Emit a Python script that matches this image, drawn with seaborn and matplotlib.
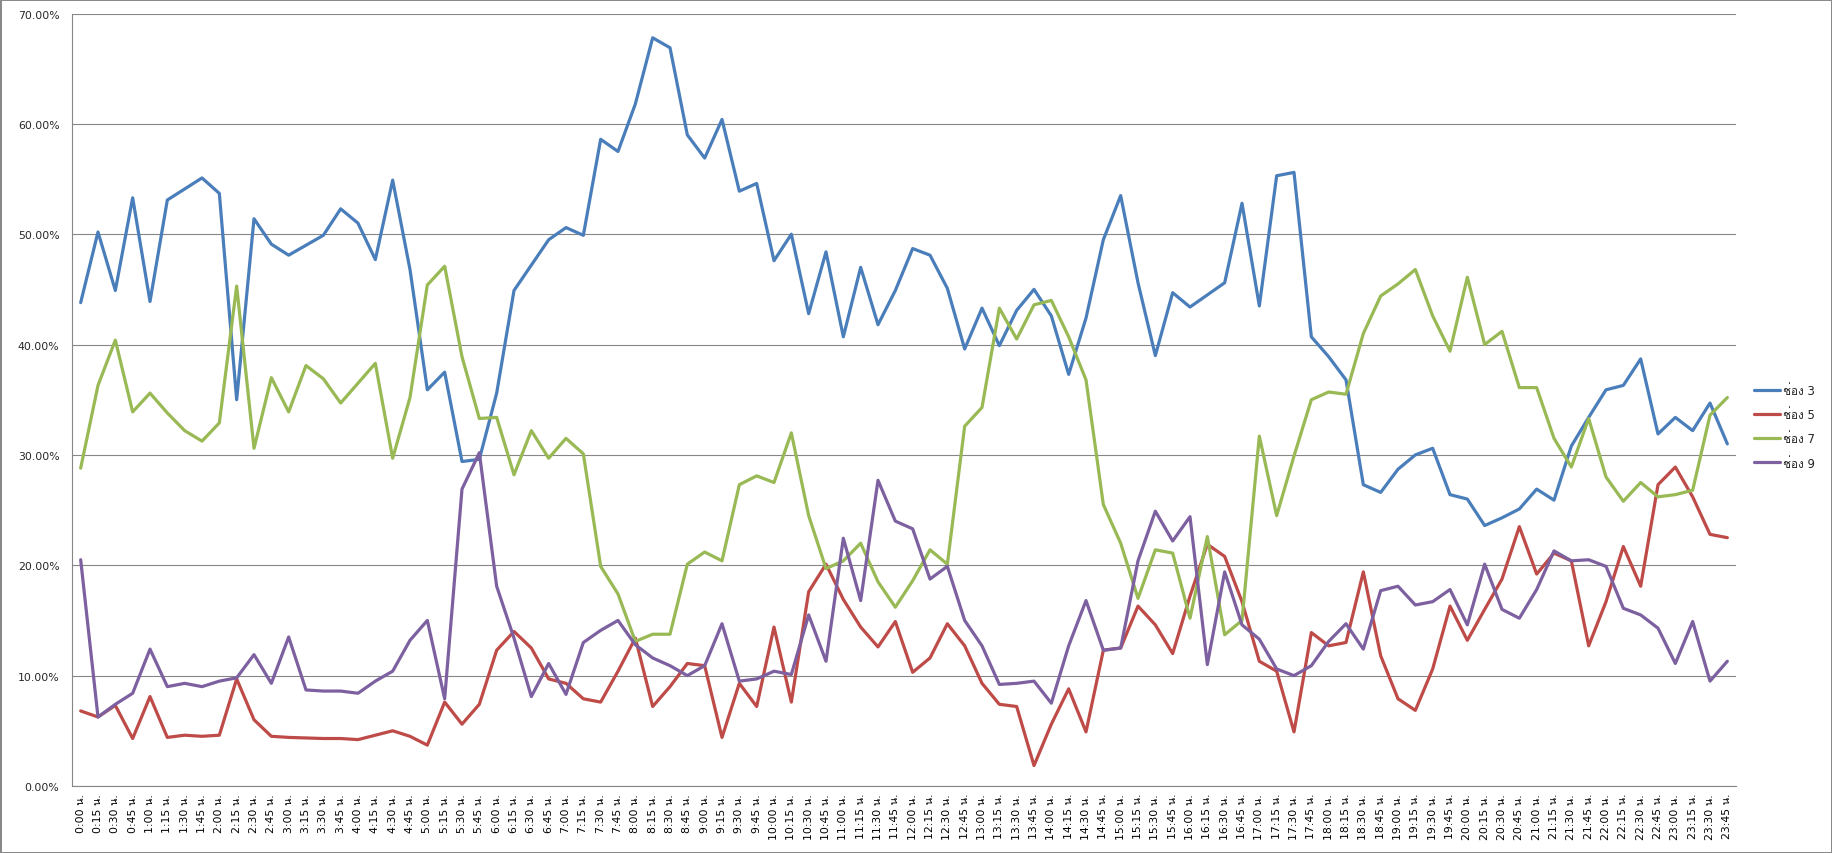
import numpy as np
import pandas as pd
import matplotlib
matplotlib.use("Agg")
import matplotlib.pyplot as plt
import seaborn as sns
from matplotlib.ticker import FixedLocator, PercentFormatter

# 15-minute slots, 0:00 - 23:45
time_labels = [f"{h}:{m:02d} น." for h in range(24) for m in (0, 15, 30, 45)]

series_names = ["ช่อง 3", "ช่อง 5", "ช่อง 7", "ช่อง 9"]

ch3 = [43.8, 50.2, 44.9, 53.3, 43.9, 53.1, 54.1, 55.1, 53.7, 35.0, 51.4, 49.1, 48.1, 49.0, 49.9, 52.3,
       51.0, 47.7, 54.9, 46.8, 35.9, 37.5, 29.4, 29.6, 35.6, 44.9, 47.2, 49.5, 50.6, 49.9, 58.6, 57.5,
       61.8, 67.8, 66.9, 59.0, 56.9, 60.4, 53.9, 54.6, 47.6, 50.0, 42.8, 48.4, 40.7, 47.0, 41.8, 44.9,
       48.7, 48.1, 45.1, 39.6, 43.3, 39.9, 43.1, 45.0, 42.6, 37.3, 42.4, 49.5, 53.5, 45.6, 39.0, 44.7,
       43.4, 44.5, 45.6, 52.8, 43.5, 55.3, 55.6, 40.7, 38.9, 36.8, 27.3, 26.6, 28.7, 30.0, 30.6, 26.4,
       26.0, 23.6, 24.3, 25.1, 26.9, 25.9, 30.8, 33.4, 35.9, 36.3, 38.7, 31.9, 33.4, 32.2, 34.7, 31.0]

ch5 = [6.8, 6.25, 7.3, 4.3, 8.1, 4.4, 4.6, 4.5, 4.6, 9.7, 6.0, 4.5, 4.4, 4.35, 4.3, 4.3,
       4.2, 4.6, 5.0, 4.5, 3.7, 7.6, 5.6, 7.4, 12.3, 14.0, 12.5, 9.7, 9.3, 7.9, 7.6, 10.4,
       13.4, 7.2, 9.0, 11.1, 10.9, 4.4, 9.3, 7.2, 14.4, 7.6, 17.6, 20.1, 16.9, 14.4, 12.6, 14.9,
       10.3, 11.6, 14.7, 12.7, 9.3, 7.4, 7.2, 1.85, 5.6, 8.8, 4.9, 12.3, 12.5, 16.3, 14.6, 12.0,
       17.2, 21.9, 20.8, 16.7, 11.3, 10.4, 4.9, 13.9, 12.7, 13.0, 19.4, 11.8, 7.9, 6.85, 10.6, 16.3,
       13.2, 16.0, 18.75, 23.5, 19.2, 21.1, 20.4, 12.7, 16.7, 21.7, 18.1, 27.3, 28.9, 26.2, 22.8, 22.5]

ch7 = [28.8, 36.3, 40.4, 33.9, 35.6, 33.8, 32.2, 31.25, 32.9, 45.3, 30.6, 37.0, 33.9, 38.1, 36.9, 34.7,
       36.5, 38.3, 29.7, 35.2, 45.4, 47.1, 38.9, 33.3, 33.4, 28.2, 32.2, 29.7, 31.5, 30.1, 19.9, 17.4,
       13.1, 13.75, 13.75, 20.1, 21.2, 20.4, 27.3, 28.1, 27.5, 32.0, 24.5, 19.7, 20.4, 22.0, 18.5, 16.2,
       18.6, 21.4, 20.1, 32.6, 34.3, 43.3, 40.5, 43.6, 44.0, 40.7, 36.8, 25.5, 22.0, 17.0, 21.4, 21.1,
       15.2, 22.6, 13.7, 15.0, 31.7, 24.5, 29.9, 35.0, 35.7, 35.5, 41.0, 44.4, 45.5, 46.8, 42.6, 39.4,
       46.1, 40.0, 41.2, 36.1, 36.1, 31.5, 28.9, 33.3, 28.0, 25.8, 27.5, 26.2, 26.4, 26.8, 33.6, 35.2]

ch9 = [20.5, 6.25, 7.4, 8.4, 12.4, 9.0, 9.3, 9.0, 9.5, 9.8, 11.9, 9.3, 13.5, 8.7, 8.6, 8.6,
       8.4, 9.5, 10.4, 13.2, 15.0, 7.9, 26.9, 30.2, 18.1, 13.4, 8.1, 11.1, 8.3, 13.0, 14.1, 15.0,
       12.8, 11.6, 10.9, 10.0, 10.9, 14.7, 9.5, 9.7, 10.4, 10.1, 15.5, 11.3, 22.45, 16.8, 27.7, 24.0,
       23.3, 18.75, 19.9, 15.0, 12.7, 9.2, 9.3, 9.5, 7.5, 12.7, 16.8, 12.3, 12.5, 20.4, 24.9, 22.2,
       24.4, 11.0, 19.4, 14.6, 13.3, 10.6, 10.0, 10.9, 13.1, 14.7, 12.4, 17.7, 18.1, 16.4, 16.7, 17.8,
       14.6, 20.1, 16.0, 15.2, 17.8, 21.3, 20.4, 20.5, 19.9, 16.1, 15.5, 14.3, 11.1, 14.9, 9.5, 11.3]

colors = ["#4A7EBB", "#BE4B48", "#98B954", "#7D60A0"]

df = pd.concat([
    pd.DataFrame({"time": time_labels, "share": vals, "channel": name})
    for name, vals in zip(series_names, [ch3, ch5, ch7, ch9])
], ignore_index=True)

sns.set_theme(style="white")
# DejaVu for latin/digits, Loma (tlwg) for the Thai letters
plt.rcParams["font.family"] = ["DejaVu Sans", "Loma"]

fig = plt.figure(figsize=(18.32, 8.54), dpi=100)
ax = fig.add_axes([0.0393, 0.0785, 0.9083, 0.9045])

sns.lineplot(data=df, x="time", y="share", hue="channel", hue_order=series_names,
             palette=colors, linewidth=2.3, sort=False, ax=ax)
for line in ax.get_lines():
    line.set_solid_joinstyle("round")
    line.set_solid_capstyle("round")

ax.set_xlim(-0.5, len(time_labels) - 0.5)
ax.set_ylim(0, 70)
ax.yaxis.set_major_locator(FixedLocator(np.arange(0, 71, 10)))
ax.yaxis.set_major_formatter(PercentFormatter(decimals=2))
ax.grid(axis="y", color="#868686", linewidth=0.8)
ax.set_axisbelow(True)

ax.set_xticks(range(len(time_labels)))
ax.set_xticklabels(time_labels, rotation=90)
ax.xaxis.set_minor_locator(FixedLocator(np.arange(-0.5, len(time_labels), 1)))
ax.tick_params(axis="x", which="major", length=0, labelsize=7.8, pad=5, colors="#000000")
ax.tick_params(axis="x", which="minor", length=5, width=0.8, color="#868686", direction="out")
ax.tick_params(axis="y", which="major", length=5, width=0.8, color="#868686", direction="out",
               labelsize=7.8, pad=4)
ax.set_xlabel("")
ax.set_ylabel("")

for side in ["top", "right"]:
    ax.spines[side].set_visible(False)
for side in ["left", "bottom"]:
    ax.spines[side].set_color("#868686")
    ax.spines[side].set_linewidth(0.8)

leg = ax.legend(loc="center left", bbox_to_anchor=(1.011, 0.465), frameon=False,
                fontsize=8.5, handlelength=2.2, handletextpad=0.25, labelspacing=0.95,
                borderpad=0, borderaxespad=0)
for h in leg.get_lines():
    h.set_linewidth(2.3)

fig.patch.set_facecolor("white")
fig.patch.set_edgecolor("#898989")
fig.patch.set_linewidth(2)

fig.savefig("out.png", dpi=100, facecolor=fig.get_facecolor(), edgecolor=fig.get_edgecolor())
